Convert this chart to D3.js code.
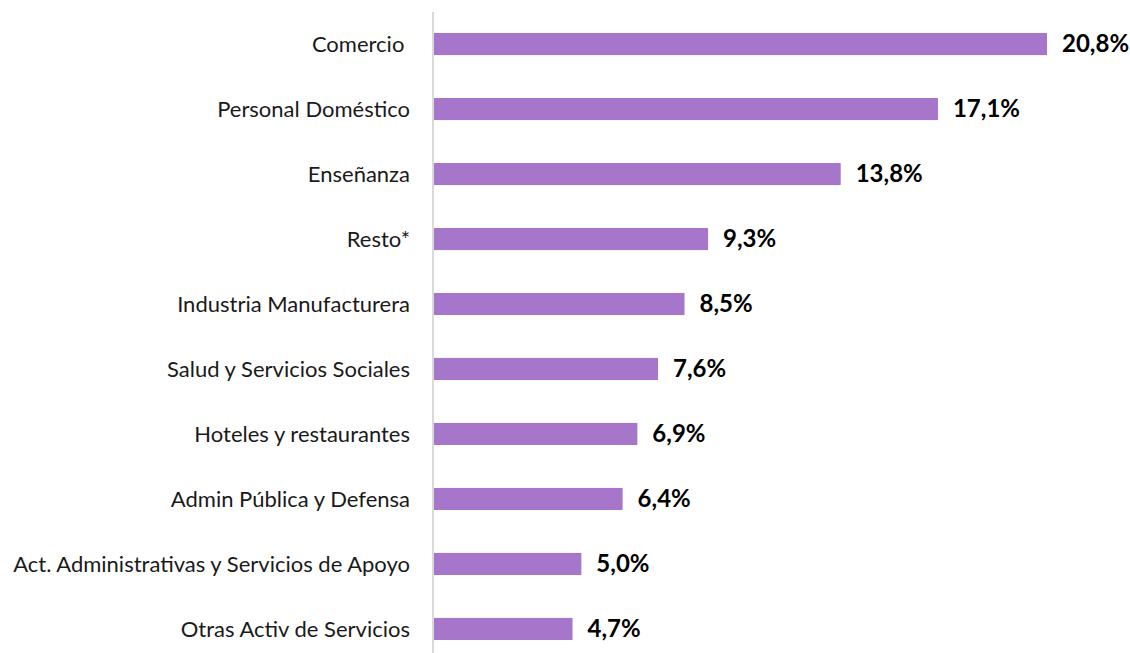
<!DOCTYPE html>
<html>
<head>
<meta charset="utf-8">
<script src="https://cdn.jsdelivr.net/npm/d3@7"></script>
<style>
  body { margin: 0; background: #fff; }
  .cat { font-family: Lato, "Open Sans", sans-serif; font-size: 22px; fill: #1a1a1a; white-space: pre; }
  .val { font-family: Lato, "Open Sans", sans-serif; font-size: 24px; font-weight: bold; fill: #000; }
</style>
</head>
<body>
<div class="chart"></div>
<script>
// data
var categories = ["Comercio ", "Personal Doméstico", "Enseñanza", "Resto*", "Industria Manufacturera",
    "Salud y Servicios Sociales", "Hoteles y restaurantes", "Admin Pública y Defensa",
    "Act. Administrativas y Servicios de Apoyo", "Otras Activ de Servicios"];
var values = [20.8, 17.1, 13.8, 9.3, 8.5, 7.6, 6.9, 6.4, 5.0, 4.7];
var valueLabels = ["20,8%", "17,1%", "13,8%", "9,3%", "8,5%", "7,6%", "6,9%", "6,4%", "5,0%", "4,7%"];

var svgWidth = 1130;
var svgHeight = 653;
var margin = {top: 20, right: 0, bottom: 0, left: 433};

var svg = d3.select(".chart")
    .append("svg")
    .attr("width", svgWidth)
    .attr("height", svgHeight);

var chart = svg.append("g")
    .attr("transform", "translate(" + margin.left + "," + margin.top + ")");

var plotHeight = 633;

// x: 20.8 -> ~613px
var xScale = d3.scaleLinear()
    .domain([0, 20.8])
    .range([0, 613]);

var yScale = d3.scaleBand()
    .domain(categories)
    .range([0, plotHeight])
    .paddingInner(0.66)
    .paddingOuter(0.2);

// vertical axis line (runs from near the top to the bottom edge)
chart.append("line")
    .attr("x1", 0).attr("x2", 0)
    .attr("y1", -8).attr("y2", svgHeight - margin.top)
    .style("stroke", "#d9d9d9")
    .style("stroke-width", 2);

chart.selectAll(".bar")
    .data(values)
    .enter()
    .append("rect")
    .attr("class", "bar")
    .attr("x", 1)
    .attr("y", function(d, i) { return yScale(categories[i]); })
    .attr("width", function(d) { return xScale(d); })
    .attr("height", yScale.bandwidth())
    .style("fill", "#a576c9");

chart.selectAll(".cat")
    .data(categories)
    .enter()
    .append("text")
    .attr("class", "cat")
    .attr("x", -23)
    .attr("y", function(d) { return yScale(d) + yScale.bandwidth() / 2; })
    .attr("dy", "0.35em")
    .attr("text-anchor", "end")
    .text(function(d) { return d; });

chart.selectAll(".val")
    .data(values)
    .enter()
    .append("text")
    .attr("class", "val")
    .attr("x", function(d) { return xScale(d) + 16; })
    .attr("y", function(d, i) { return yScale(categories[i]) + yScale.bandwidth() / 2; })
    .attr("dy", "0.35em")
    .text(function(d, i) { return valueLabels[i]; });
</script>
</body>
</html>
